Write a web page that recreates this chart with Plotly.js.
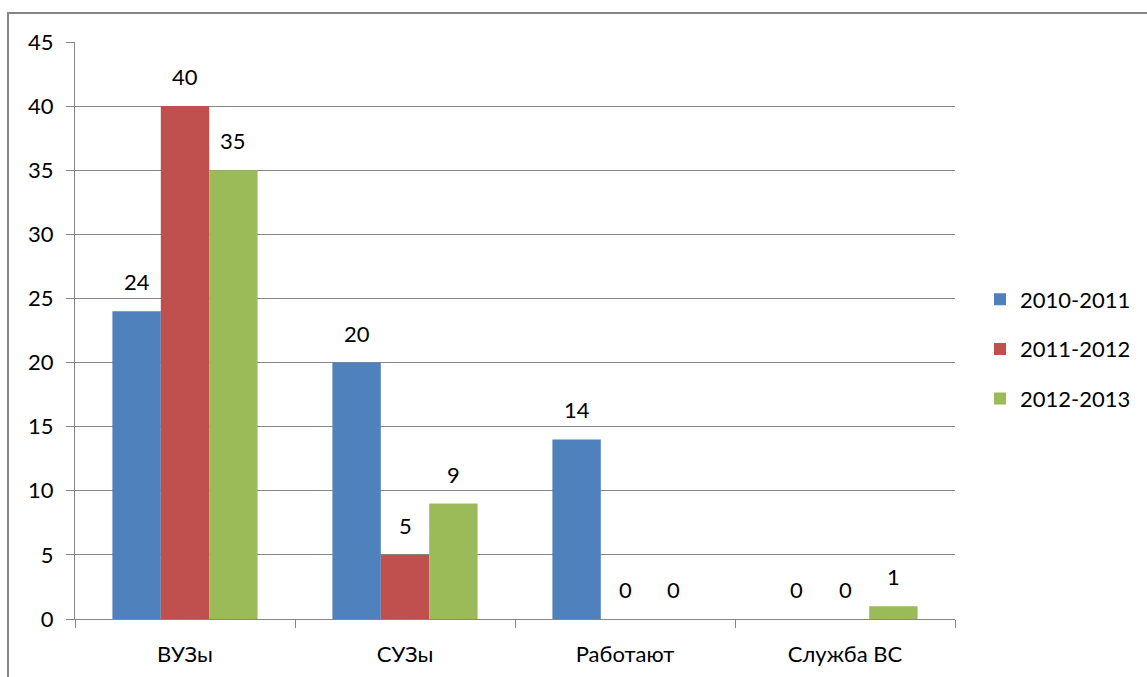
<!DOCTYPE html>
<html>
<head>
<meta charset="utf-8">
<script src="https://cdn.plot.ly/plotly-3.0.1.min.js"></script>
<style>
html,body{margin:0;padding:0;background:#fff;overflow:hidden;}
#wrap{position:relative;width:1147px;height:677px;overflow:hidden;}
#chart{width:1147px;height:677px;}
#frame{position:absolute;left:7px;top:12px;width:2000px;height:2000px;border-left:2px solid #868686;border-top:2px solid #868686;pointer-events:none;}
</style>
</head>
<body>
<div id="wrap">
<div id="chart"></div>
<div id="frame"></div>
</div>
<script>
const categories = ["ВУЗы", "СУЗы", "Работают", "Служба ВС"];
const seriesNames = ["2010-2011", "2011-2012", "2012-2013"];
const s2010 = [24, 20, 14, 0];
const s2011 = [40, 5, 0, 0];
const s2012 = [35, 9, 0, 1];
const yTicks = [0, 5, 10, 15, 20, 25, 30, 35, 40, 45];

const colors = ["#4F81BD", "#C0504D", "#9BBB59"];
const font = "Lato, 'Open Sans', sans-serif";
const fs = 22;
const allSeries = [s2010, s2011, s2012];

const L = 75, R = 955, T = 42, B = 619, W = 1147, H = 677;
const pw = R - L, ph = B - T;
const px = p => (p - L) / pw;
const py = p => 1 - (p - T) / ph;
const bargap = 0.34;
const catPx = pw / categories.length;
const barPx = catPx * (1 - bargap) / allSeries.length;

const traces = allSeries.map((vals, i) => ({
  type: "bar",
  name: seriesNames[i],
  x: categories,
  y: vals,
  marker: {color: colors[i]},
  hoverinfo: "skip",
  legendgroup: "g" + i
}));

const annotations = [];
allSeries.forEach((vals, i) => {
  vals.forEach((v, j) => {
    annotations.push({
      x: categories[j], y: v, xref: "x", yref: "y",
      text: String(v), showarrow: false,
      xanchor: "center", yanchor: "bottom",
      xshift: (i - (allSeries.length - 1) / 2) * barPx,
      yshift: 14,
      font: {family: font, size: fs, color: "#000"}
    });
  });
});

const layout = {
  width: W, height: H,
  margin: {l: L, r: W - R, t: T, b: H - B, pad: 0, autoexpand: false},
  paper_bgcolor: "#fff",
  plot_bgcolor: "#fff",
  font: {family: font, size: fs, color: "#000"},
  barmode: "group",
  bargap: bargap,
  bargroupgap: 0,
  showlegend: true,
  legend: {
    x: px(980), xanchor: "left",
    y: py(349), yanchor: "middle",
    font: {family: font, size: fs, color: "#000"},
    traceorder: "grouped",
    tracegroupgap: 18,
    itemwidth: 30,
    bgcolor: "rgba(0,0,0,0)"
  },
  annotations: annotations,
  xaxis: {
    type: "category",
    tickson: "boundaries",
    ticks: "outside",
    ticklen: 8,
    tickcolor: "#868686",
    showline: true,
    linecolor: "#868686",
    linewidth: 1,
    showgrid: false,
    ticklabelstandoff: 16,
    tickfont: {family: font, size: fs, color: "#000"}
  },
  yaxis: {
    range: [0, 45],
    tickvals: yTicks,
    ticktext: yTicks.map(String),
    ticks: "outside",
    ticklen: 8,
    tickcolor: "#868686",
    showline: true,
    linecolor: "#868686",
    linewidth: 1,
    showgrid: true,
    gridcolor: "#868686",
    gridwidth: 1,
    zeroline: false,
    ticklabelstandoff: 8,
    tickfont: {family: font, size: fs, color: "#000"}
  }
};

Plotly.newPlot("chart", traces, layout, {staticPlot: true});
</script>
</body>
</html>
